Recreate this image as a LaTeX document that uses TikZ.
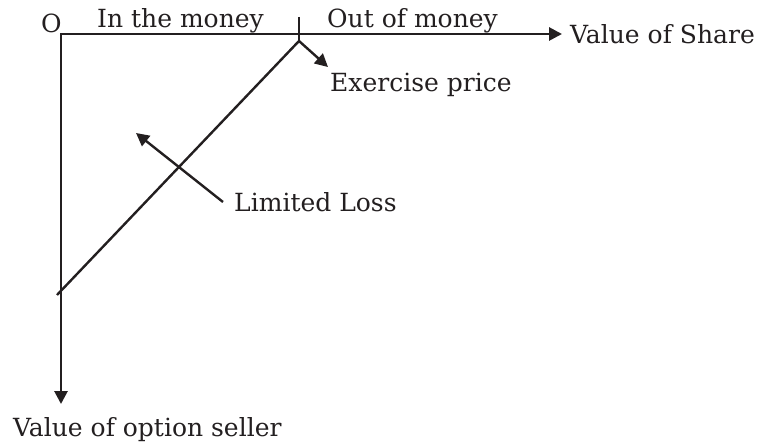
\documentclass[tikz,border=0pt]{standalone}
\usepackage{fontspec}
\setmainfont{DejaVu Serif}
\usetikzlibrary{arrows.meta}
\definecolor{ink}{HTML}{231F20}
\begin{document}
\begin{tikzpicture}[x=1pt,y=-1pt,
  every node/.style={inner sep=0pt,font=\fontsize{25}{30}\selectfont,text=ink},
  lbl/.style={anchor=base west},
  axisline/.style={line width=2.8pt,color=ink},
  thinline/.style={line width=2.4pt,color=ink},
  headtip/.style={-{Triangle[length=13pt,width=13pt]}}
]
\useasboundingbox (0,0) rectangle (759,443);

% axes
\coordinate (O) at (61,34);
\coordinate (xend) at (562,34);
\coordinate (yend) at (61,404);
\draw[axisline,{Triangle[length=13pt,width=13pt]}-{Triangle[length=13pt,width=13pt]}] (yend) -- (O) -- (xend);

% exercise price tick and payoff line
\coordinate (ticktop) at (299,17);
\coordinate (K) at (299,41);
\coordinate (lossend) at (57,295);
\draw[thinline] (ticktop) -- (K);
\draw[thinline] (K) -- (lossend);

% pointer to the exercise price
\coordinate (extip) at (328,67);
\draw[thinline,headtip] (K) -- (extip);

% pointer to the loss region
\coordinate (lltail) at (223,202);
\coordinate (lltip) at (136,133);
\draw[thinline,headtip] (lltail) -- (lltip);

% labels
\node[lbl] (origin) at (41,33) {O};
\node[lbl] (itm) at (97,28) {In the money};
\node[lbl] (otm) at (327,28) {Out of money};
\node[lbl] (share) at (570,44) {Value of Share};
\node[lbl] (exercise) at (330,92) {Exercise price};
\node[lbl] (loss) at (234,212) {Limited Loss};
\node[lbl] (seller) at (13,436) {Value of option seller};
\end{tikzpicture}
\end{document}
